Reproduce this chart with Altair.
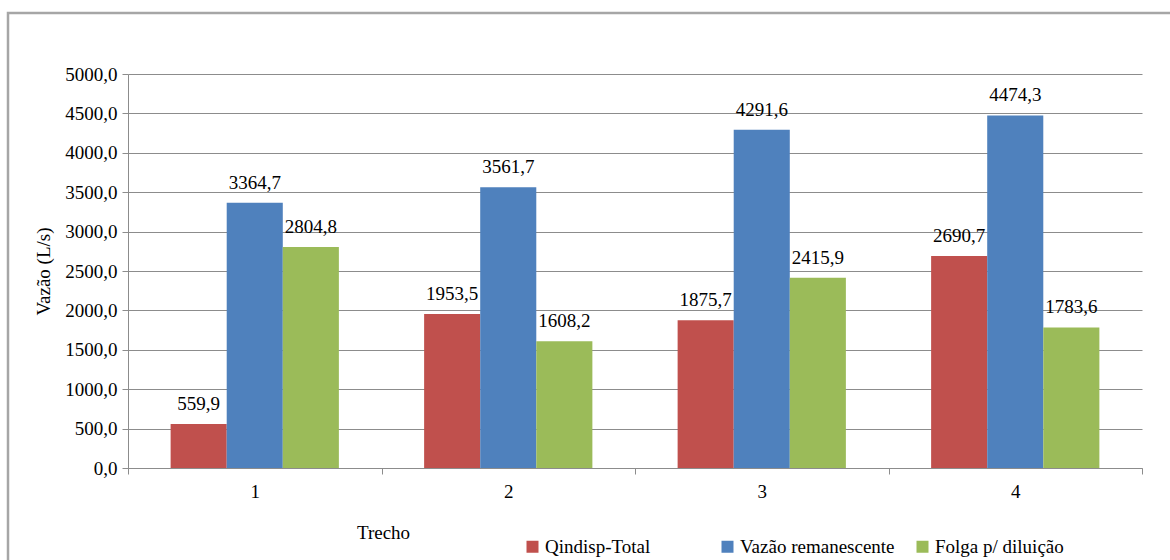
import altair as alt
import pandas as pd

trechos = ["1", "2", "3", "4"]
series = ["Qindisp-Total", "Vazão remanescente", "Folga p/ diluição"]
qindisp = [559.9, 1953.5, 1875.7, 2690.7]
remanescente = [3364.7, 3561.7, 4291.6, 4474.3]
folga = [2804.8, 1608.2, 2415.9, 1783.6]
colors = ["#C0504D", "#4F81BD", "#9BBB59"]
y_ticks = [0, 500, 1000, 1500, 2000, 2500, 3000, 3500, 4000, 4500, 5000]

rows = []
for name, vals in zip(series, [qindisp, remanescente, folga]):
    for t, v in zip(trechos, vals):
        rows.append({"Trecho": t, "Serie": name, "Valor": v,
                     "Rotulo": f"{v:.1f}".replace(".", ",")})
df = pd.DataFrame(rows)

FONT = "Liberation Serif"
FS = 19

x_enc = alt.X("Trecho:N", sort=trechos,
              scale=alt.Scale(paddingInner=0, paddingOuter=0),
              axis=alt.Axis(title="Trecho", labelAngle=0, tickBand="extent",
                            tickSize=6, labelPadding=8, domainColor="#8C8C8C",
                            tickColor="#8C8C8C", titleX=255, titleY=55,
                            titleAlign="center", titleBaseline="top",
                            titleFontWeight="normal",
                            labelFont=FONT, labelFontSize=FS, labelColor="#000000",
                            titleFont=FONT, titleFontSize=FS, titleColor="#000000"))
xo_enc = alt.XOffset("Serie:N", sort=series,
                     scale=alt.Scale(paddingInner=0, paddingOuter=0.76))
y_enc = alt.Y("Valor:Q",
              scale=alt.Scale(domain=[0, 5000], nice=False),
              axis=alt.Axis(title="Vazão (L/s)", values=y_ticks,
                            labelExpr="replace(format(datum.value, '.1f'), '.', ',')",
                            tickSize=6, labelPadding=5, gridColor="#8C8C8C",
                            domainColor="#8C8C8C", tickColor="#8C8C8C",
                            titleX=-75, titleY=197, titleAngle=-90,
                            titleAlign="center", titleBaseline="bottom",
                            titleFontWeight="normal",
                            labelFont=FONT, labelFontSize=FS, labelColor="#000000",
                            titleFont=FONT, titleFontSize=FS, titleColor="#000000"))

bars = alt.Chart(df).mark_bar().encode(
    x=x_enc, xOffset=xo_enc, y=y_enc,
    color=alt.Color("Serie:N", sort=series,
                    scale=alt.Scale(domain=series, range=colors),
                    legend=alt.Legend(title=None, orient="none", direction="horizontal",
                                      legendX=395, legendY=463,
                                      symbolType="square", symbolSize=144,
                                      symbolStrokeWidth=0, labelOffset=3,
                                      gridAlign="all", columnPadding=18,
                                      labelFont=FONT, labelFontSize=FS,
                                      labelColor="#000000", labelLimit=400)),
)

labels = alt.Chart(df).mark_text(dy=-14, baseline="alphabetic", align="center",
                                 font=FONT, fontSize=FS, color="#000000").encode(
    x=x_enc, xOffset=xo_enc, y=y_enc, text="Rotulo:N")

frame = alt.Chart(pd.DataFrame({"a": [0]})).mark_rect(
    fill=None, stroke="#A6A6A6", strokeWidth=2.5).encode(
    x=alt.value(-120), x2=alt.value(1200), y=alt.value(-61), y2=alt.value(600))

chart = alt.layer(frame, bars, labels).properties(
    width=1014, height=394,
    background="white",
    autosize=alt.AutoSizeParams(type="none"),
    padding={"left": 128, "top": 74, "right": 28, "bottom": 92},
).configure(font=FONT).configure_view(stroke=None).configure_text(font=FONT)

chart.save("out.html", embed_options={"renderer": "svg", "actions": False})
